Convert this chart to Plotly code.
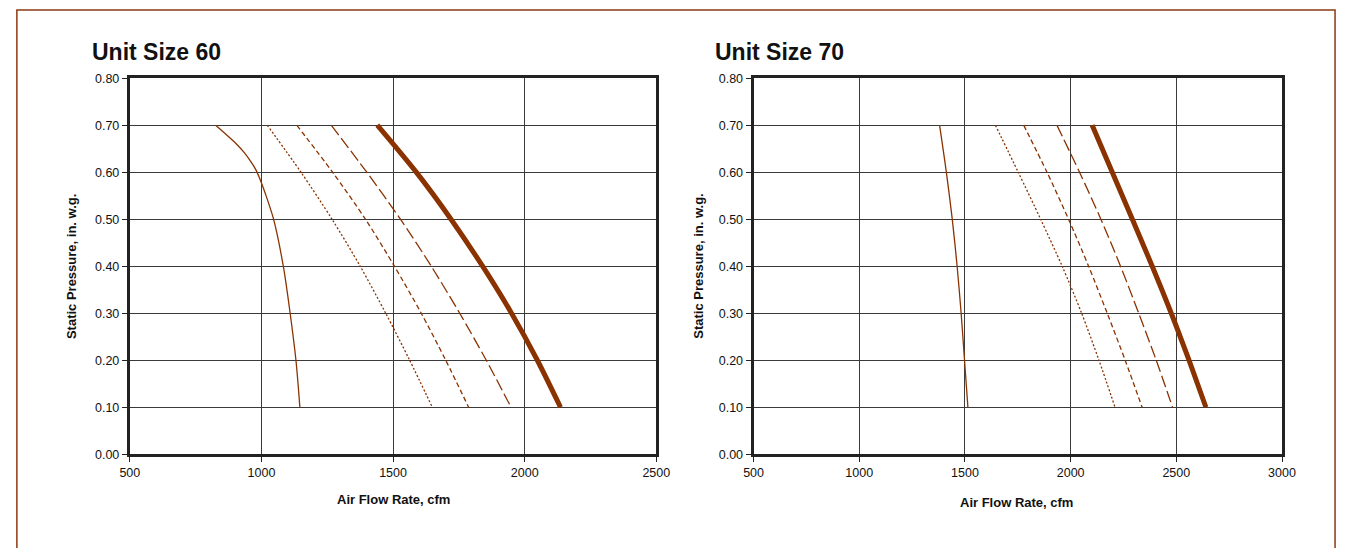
import plotly.graph_objects as go

# Fan curves: static pressure (in. w.g.) against air flow (cfm)
pressure_60_low = [0.70, 0.680, 0.661, 0.642, 0.623, 0.606, 0.587, 0.554, 0.50, 0.40, 0.30, 0.20, 0.10]
flow_60_low = [826, 866, 903, 934, 959, 978, 993, 1015, 1046, 1083, 1109, 1131, 1146]

pressure = [0.70, 0.60, 0.50, 0.40, 0.30, 0.20, 0.10]
flow_60_med_low = [1022, 1150, 1268, 1375, 1472, 1563, 1649]
flow_60_medium = [1134, 1270, 1395, 1505, 1607, 1700, 1787]
flow_60_med_high = [1265, 1400, 1528, 1645, 1753, 1854, 1948]
flow_60_high = [1440, 1588, 1720, 1840, 1950, 2048, 2136]

flow_70_low = [1380, 1412, 1440, 1463, 1482, 1498, 1514]
flow_70_med_low = [1644, 1752, 1858, 1960, 2052, 2134, 2210]
flow_70_medium = [1778, 1888, 1990, 2085, 2173, 2258, 2338]
flow_70_med_high = [1935, 2042, 2143, 2236, 2322, 2405, 2482]
flow_70_high = [2102, 2197, 2292, 2386, 2476, 2560, 2640]

titles = ["Unit Size 60", "Unit Size 70"]
x_title = "Air Flow Rate, cfm"
y_title = "Static Pressure, in. w.g."
y_ticks = [0.0, 0.1, 0.2, 0.3, 0.4, 0.5, 0.6, 0.7, 0.8]
x_ticks_60 = [500, 1000, 1500, 2000, 2500]
x_ticks_70 = [500, 1000, 1500, 2000, 2500, 3000]

W, H = 1352, 548
BROWN = "#8a3200"
GRID = "#3a3a3a"
AXIS = "#222222"
FONT = "Liberation Sans, Arial, sans-serif"

styles = [
    dict(width=1.3, dash="solid"),
    dict(width=1.3, dash="2px,2px"),
    dict(width=1.3, dash="5px,3px"),
    dict(width=1.3, dash="12px,4px"),
    dict(width=5, dash="solid"),
]


def px_x(v):
    return v / W


def px_y(v):
    return 1 - v / H


fig = go.Figure()

series_60 = [(flow_60_low, pressure_60_low), (flow_60_med_low, pressure),
             (flow_60_medium, pressure), (flow_60_med_high, pressure),
             (flow_60_high, pressure)]
series_70 = [(flow_70_low, pressure), (flow_70_med_low, pressure),
             (flow_70_medium, pressure), (flow_70_med_high, pressure),
             (flow_70_high, pressure)]

for axes, series in [(("x", "y"), series_60), (("x2", "y2"), series_70)]:
    for (xs, ys), st in zip(series, styles):
        fig.add_trace(go.Scatter(x=xs, y=ys, mode="lines", xaxis=axes[0], yaxis=axes[1],
                                 line=dict(color=BROWN, shape="spline", smoothing=0.8, **st),
                                 showlegend=False, hoverinfo="skip"))

y_dom = [px_y(459), px_y(73)]
common_axis = dict(
    showline=True, linewidth=3, linecolor=AXIS, mirror=True,
    showgrid=True, gridcolor=GRID, gridwidth=1, zeroline=False,
    ticks="outside", ticklen=5, tickwidth=1, tickcolor=AXIS,
    tickfont=dict(family=FONT, size=12.5, color="#111"),
)

fig.update_layout(
    width=W, height=H,
    margin=dict(l=0, r=0, t=0, b=0),
    paper_bgcolor="white", plot_bgcolor="white",
    xaxis=dict(domain=[px_x(122), px_x(658)], range=[500, 2500],
               tickvals=x_ticks_60, anchor="y", **common_axis),
    yaxis=dict(domain=y_dom, range=[0, 0.8], tickvals=y_ticks,
               tickformat=".2f", anchor="x", **common_axis),
    xaxis2=dict(domain=[px_x(757), px_x(1295)], range=[500, 3000],
                tickvals=x_ticks_70, anchor="y2", **common_axis),
    yaxis2=dict(domain=y_dom, range=[0, 0.8], tickvals=y_ticks,
                tickformat=".2f", anchor="x2", **common_axis),
)

annotations = []
for title, tx in zip(titles, [81, 716]):
    annotations.append(dict(text="<b>%s</b>" % title, x=px_x(tx), y=px_y(46),
                            xref="paper", yref="paper", xanchor="left", yanchor="middle",
                            showarrow=False, font=dict(family=FONT, size=23, color="#111")))
for cx, cy in [(390, 505), (1025, 508)]:
    annotations.append(dict(text="<b>%s</b>" % x_title, x=px_x(cx), y=px_y(cy),
                            xref="paper", yref="paper", xanchor="center", yanchor="middle",
                            showarrow=False, font=dict(family=FONT, size=13, color="#111")))
for cx in [62, 701]:
    annotations.append(dict(text="<b>%s</b>" % y_title, x=px_x(cx), y=px_y(266),
                            xref="paper", yref="paper", xanchor="center", yanchor="middle",
                            textangle=-90, showarrow=False,
                            font=dict(family=FONT, size=13, color="#111")))
fig.update_layout(annotations=annotations)

# Frame around the whole figure (open past the bottom edge)
fig.add_shape(type="rect", xref="paper", yref="paper",
              x0=px_x(7), x1=px_x(1349), y0=-0.05, y1=px_y(3),
              line=dict(color="#8b3a12", width=1.5), fillcolor="rgba(0,0,0,0)")

fig.write_html(
    "out.html",
    post_script="document.body.style.margin='0';"
                "document.documentElement.style.overflow='hidden';",
)
